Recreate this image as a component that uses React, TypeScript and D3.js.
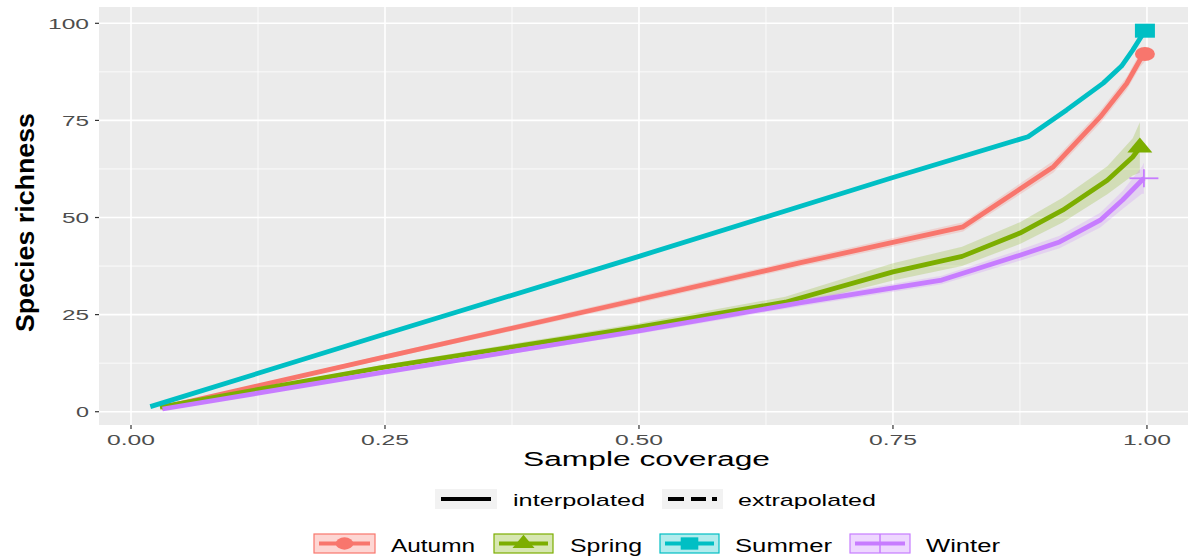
import React from 'react';
import * as d3 from 'd3';

// sample coverage (x), species richness (y) and CI half-width per season
const autumnX = [0.03, 0.25, 0.5, 0.658, 0.819, 0.908, 0.954, 0.98, 0.993, 0.998];
const autumnY = [1, 14.1, 28.9, 38.3, 47.6, 63.1, 75.9, 84.5, 90.5, 92.1];
const autumnCI = [0.2, 0.6, 0.9, 1.0, 1.2, 1.5, 1.6, 1.7, 1.8, 1.9];

const springX = [0.0285, 0.245, 0.5, 0.644, 0.75, 0.818, 0.875, 0.917, 0.961, 0.986, 0.993];
const springY = [1.2, 11.3, 21.8, 28.2, 36, 40, 46, 51.9, 59.6, 65.6, 68];
const springCI = [0.2, 0.6, 1.0, 1.4, 2.2, 2.5, 2.8, 3.2, 3.6, 4.8, 6.5];

const summerX = [0.019, 0.25, 0.5, 0.75, 0.883, 0.921, 0.957, 0.975, 0.986, 0.998];
const summerY = [1.3, 20, 40, 60.3, 70.8, 77.7, 84.6, 89, 93.1, 98.1];
const summerCI = [0.1, 0.2, 0.3, 0.3, 0.4, 0.4, 0.5, 0.5, 0.6, 0.6];

const winterX = [0.031, 0.245, 0.5, 0.658, 0.798, 0.875, 0.914, 0.954, 0.976, 0.995, 0.997];
const winterY = [0.7, 10, 20.8, 28, 33.9, 40.3, 43.7, 49.3, 54.5, 59.6, 60.1];
const winterCI = [0.1, 0.4, 0.7, 0.9, 1.1, 1.4, 1.6, 1.9, 2.3, 3.5, 4];

const seasons = ['Autumn', 'Spring', 'Summer', 'Winter'];
const seasonColors = ['#F8766D', '#7CAE00', '#00BFC4', '#C77CFF'];
const methodLabels = ['interpolated', 'extrapolated'];

const xTicks = [0, 0.25, 0.5, 0.75, 1];
const xTickLabels = ['0.00', '0.25', '0.50', '0.75', '1.00'];
const xMinor = [0.125, 0.375, 0.625, 0.875];
const yTicks = [0, 25, 50, 75, 100];
const yTickLabels = ['0', '25', '50', '75', '100'];
const yMinor = [12.5, 37.5, 62.5, 87.5];

const W = 1188;
const H = 556;
const panel = { left: 99, right: 1188, top: 7, bottom: 425 };
const FONT = '"Liberation Sans", Arial, sans-serif';

type Pt = { x: number; y: number; ci: number };
const build = (xs: number[], ys: number[], ci: number[]): Pt[] =>
  xs.map((x, i) => ({ x, y: ys[i], ci: ci[i] }));

const series = [
  build(autumnX, autumnY, autumnCI),
  build(springX, springY, springCI),
  build(summerX, summerY, summerCI),
  build(winterX, winterY, winterCI),
];

// stretched text, the source picture is wider than it was drawn
const T = ({ x, y, w, size, anchor = 'start', fill = '#000', weight = 'normal', transform, children }: any) => (
  <text
    x={x}
    y={y}
    fontSize={size}
    fontFamily={FONT}
    fontWeight={weight}
    fill={fill}
    textAnchor={anchor}
    textLength={w}
    lengthAdjust="spacingAndGlyphs"
    transform={transform}
  >
    {children}
  </text>
);

const Marker = ({ i, cx, cy, s = 1 }: { i: number; cx: number; cy: number; s?: number }) => {
  const c = seasonColors[i];
  if (i === 0) return <ellipse cx={cx} cy={cy} rx={10 * s} ry={7 * s} fill={c} />;
  if (i === 1)
    return (
      <path
        d={`M${cx},${cy - 10 * s} L${cx + 12.5 * s},${cy + 5 * s} L${cx - 12.5 * s},${cy + 5 * s} Z`}
        fill={c}
      />
    );
  if (i === 2) return <rect x={cx - 10 * s} y={cy - 7 * s} width={20 * s} height={14 * s} fill={c} />;
  return (
    <g stroke={c} strokeWidth={1.8}>
      <line x1={cx - 14.5 * s} x2={cx + 14.5 * s} y1={cy} y2={cy} />
      <line x1={cx} x2={cx} y1={cy - 9 * s} y2={cy + 9 * s} />
    </g>
  );
};

export default function App() {
  const x = d3.scaleLinear().domain([-0.0315, 1.0404]).range([panel.left, panel.right]);
  const y = d3.scaleLinear().domain([-3.42, 104.2]).range([panel.bottom, panel.top]);

  const line = d3.line<Pt>().x(d => x(d.x)).y(d => y(d.y));
  const area = d3
    .area<Pt>()
    .x(d => x(d.x))
    .y0(d => y(d.y - d.ci))
    .y1(d => y(d.y + d.ci));

  const xTickW = 48;
  const yTickW = (s: string) => (s.length === 3 ? 41 : s.length === 2 ? 27 : 13);

  // legend geometry
  const row1 = 499;
  const row2 = 543.5;
  const methodKeys = [
    { box: [435, 497], text: [513, 645] },
    { box: [662, 723], text: [738, 876] },
  ];
  const seasonKeys = [
    { box: [314, 375], text: [391, 475] },
    { box: [494, 553], text: [570, 642] },
    { box: [660, 719], text: [735, 832] },
    { box: [850, 910], text: [926, 1000] },
  ];

  return (
    <div style={{ position: 'fixed', left: 0, top: 0, width: W, height: H, background: '#fff' }}>
      <svg width={W} height={H} style={{ display: 'block' }}>
        <rect
          x={panel.left}
          y={panel.top}
          width={panel.right - panel.left}
          height={panel.bottom - panel.top}
          fill="#EBEBEB"
        />
        {/* grid */}
        {xMinor.map(v => (
          <line key={'xm' + v} x1={x(v)} x2={x(v)} y1={panel.top} y2={panel.bottom} stroke="#fff" strokeWidth={0.8} />
        ))}
        {yMinor.map(v => (
          <line key={'ym' + v} x1={panel.left} x2={panel.right} y1={y(v)} y2={y(v)} stroke="#fff" strokeWidth={0.8} />
        ))}
        {xTicks.map(v => (
          <line key={'xg' + v} x1={x(v)} x2={x(v)} y1={panel.top} y2={panel.bottom} stroke="#fff" strokeWidth={1.6} />
        ))}
        {yTicks.map(v => (
          <line key={'yg' + v} x1={panel.left} x2={panel.right} y1={y(v)} y2={y(v)} stroke="#fff" strokeWidth={1.6} />
        ))}

        {/* ribbons */}
        {series.map((s, i) => (
          <path key={'band' + i} d={area(s) || ''} fill={seasonColors[i]} fillOpacity={0.22} />
        ))}
        {/* lines */}
        {series.map((s, i) => (
          <path
            key={'line' + i}
            d={line(s) || ''}
            fill="none"
            stroke={seasonColors[i]}
            strokeWidth={4.8}
            strokeLinejoin="round"
          />
        ))}
        {/* end markers */}
        {series.map((s, i) => {
          const last = s[s.length - 1];
          return <Marker key={'mk' + i} i={i} cx={x(last.x)} cy={y(last.y)} />;
        })}

        {/* axes */}
        {xTicks.map((v, i) => (
          <g key={'xt' + v}>
            <line x1={x(v)} x2={x(v)} y1={panel.bottom} y2={panel.bottom + 4} stroke="#333" strokeWidth={1.2} />
            <T x={x(v)} y={445} w={xTickW} size={15} anchor="middle" fill="#4D4D4D">
              {xTickLabels[i]}
            </T>
          </g>
        ))}
        {yTicks.map((v, i) => (
          <g key={'yt' + v}>
            <line x1={panel.left - 4} x2={panel.left} y1={y(v)} y2={y(v)} stroke="#333" strokeWidth={1.2} />
            <T x={89} y={y(v) + 5.5} w={yTickW(yTickLabels[i])} size={15} anchor="end" fill="#4D4D4D">
              {yTickLabels[i]}
            </T>
          </g>
        ))}
        <T x={646.5} y={466} w={247} size={20} anchor="middle">
          Sample coverage
        </T>
        <T x={0} y={0} w={219} size={25} anchor="middle" weight="bold" transform="translate(34,222.5) rotate(-90)">
          Species richness
        </T>

        {/* legend: method */}
        {methodKeys.map((k, i) => (
          <g key={'mkey' + i}>
            <rect x={k.box[0]} y={row1 - 10} width={k.box[1] - k.box[0]} height={20} fill="#F2F2F2" />
            <line
              x1={k.box[0] + 6}
              x2={k.box[1] - 6}
              y1={row1}
              y2={row1}
              stroke="#000"
              strokeWidth={3.8}
              strokeDasharray={i === 1 ? '16 7 15 6 5 40' : undefined}
            />
            <T x={k.text[0]} y={row1 + 7} w={k.text[1] - k.text[0]} size={17}>
              {methodLabels[i]}
            </T>
          </g>
        ))}

        {/* legend: season */}
        {seasonKeys.map((k, i) => (
          <g key={'skey' + i}>
            <rect
              x={k.box[0]}
              y={row2 - 9.5}
              width={k.box[1] - k.box[0]}
              height={19}
              fill={seasonColors[i]}
              fillOpacity={0.3}
              stroke={seasonColors[i]}
              strokeWidth={1.2}
            />
            <line
              x1={k.box[0] + 5}
              x2={k.box[1] - 5}
              y1={row2}
              y2={row2}
              stroke={seasonColors[i]}
              strokeWidth={3.8}
            />
            {i === 3 ? (
              <line
                x1={(k.box[0] + k.box[1]) / 2}
                x2={(k.box[0] + k.box[1]) / 2}
                y1={row2 - 9.5}
                y2={row2 + 9.5}
                stroke={seasonColors[i]}
                strokeWidth={1.5}
              />
            ) : (
              <Marker i={i} cx={(k.box[0] + k.box[1]) / 2} cy={row2} s={0.88} />
            )}
            <T x={k.text[0]} y={row2 + 8} w={k.text[1] - k.text[0]} size={18}>
              {seasons[i]}
            </T>
          </g>
        ))}
      </svg>
    </div>
  );
}
